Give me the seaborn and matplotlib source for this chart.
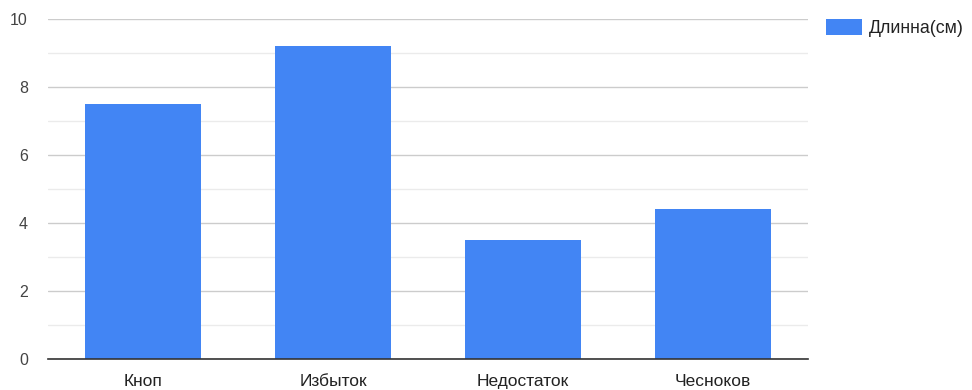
import matplotlib
matplotlib.use("Agg")
import matplotlib.pyplot as plt
import seaborn as sns
import pandas as pd
from matplotlib.patches import Patch

categories = ["Кноп", "Избыток", "Недостаток", "Чесноков"]
lengths = [7.5, 9.2, 3.5, 4.4]
series_name = "Длинна(см)"
y_ticks = [0, 2, 4, 6, 8, 10]

sns.set_theme(style="white")
plt.rcParams["font.family"] = ["Liberation Sans", "DejaVu Sans"]

df = pd.DataFrame({"name": categories, "value": lengths})

fig = plt.figure(figsize=(9.72, 3.9), dpi=100)
ax = fig.add_axes([48 / 972, 31 / 390, 760 / 972, 340 / 390])

bar_color = "#4285f4"
sns.barplot(data=df, x="name", y="value", color=bar_color, width=0.61,
            saturation=1, ax=ax, zorder=3)
for p in ax.patches:
    p.set_edgecolor("none")

ax.set_xlim(-0.5, len(categories) - 0.5)
ax.set_ylim(0, 10)
ax.set_yticks(y_ticks)
ax.set_yticks([1, 3, 5, 7, 9], minor=True)
ax.grid(axis="y", which="major", color="#cccccc", linewidth=1, zorder=0)
ax.grid(axis="y", which="minor", color="#ebebeb", linewidth=1, zorder=0)
ax.set_axisbelow(True)

for side in ["top", "right", "left"]:
    ax.spines[side].set_visible(False)
ax.spines["bottom"].set_color("#333333")
ax.spines["bottom"].set_linewidth(1.2)
ax.spines["bottom"].set_zorder(4)

ax.tick_params(axis="both", which="both", length=0)
ax.tick_params(axis="y", pad=14.5, labelsize=11.5, labelcolor="#444444")
ax.tick_params(axis="x", pad=11, labelsize=12.5, labelcolor="#222222")
ax.set_xlabel("")
ax.set_ylabel("")

handle = Patch(facecolor=bar_color, edgecolor="none", label=series_name)
fig.legend(handles=[handle], loc="upper left",
           bbox_to_anchor=(826 / 972, 1 - 19 / 390),
           frameon=False, fontsize=12.8, borderpad=0, borderaxespad=0,
           handlelength=2.0, handleheight=1.0,
           handletextpad=0.4, labelcolor="#222222")

fig.savefig("out.png", dpi=100)
